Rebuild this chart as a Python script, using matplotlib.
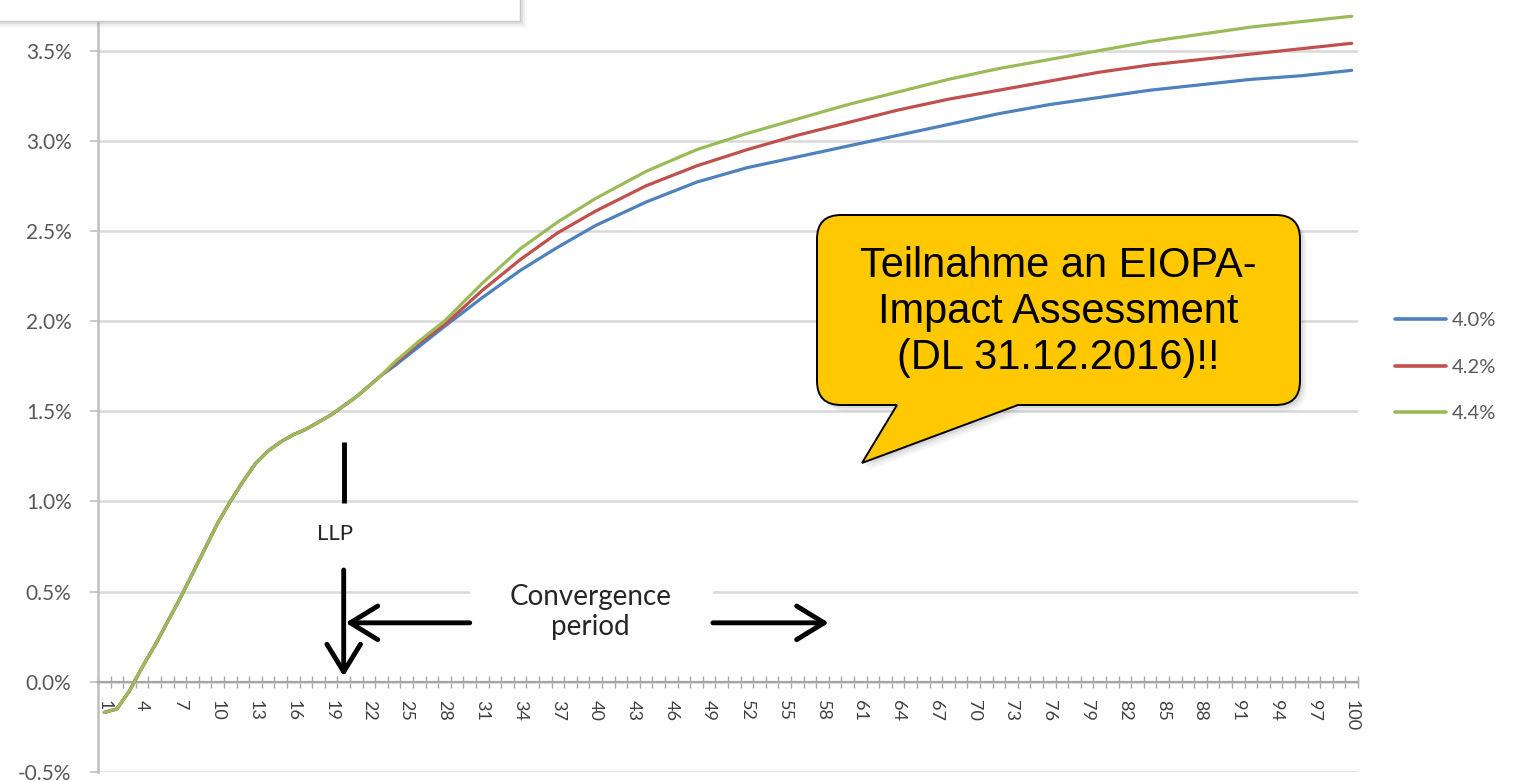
import matplotlib
matplotlib.use("Agg")
import matplotlib.pyplot as plt
from matplotlib.path import Path
from matplotlib.patches import PathPatch, Rectangle, FancyArrowPatch
from matplotlib.transforms import Affine2D
from matplotlib.ticker import FixedLocator, FuncFormatter

# Maturities (years) at which the spot curves are given
years = list(range(1, 25)) + [26, 28, 31, 34, 37, 40, 44, 48, 52, 56, 60, 64,
                              68, 72, 76, 80, 84, 88, 92, 96, 100]

# Liquid part of the curve, identical for all UFR assumptions (years 1-23)
liquid_part = [-0.17, -0.15, -0.05, 0.08, 0.20, 0.33, 0.46, 0.60, 0.74, 0.88,
               1.00, 1.11, 1.21, 1.28, 1.33, 1.37, 1.40, 1.44, 1.48, 1.53,
               1.58, 1.64, 1.70]

# Extrapolated part (year 24 onwards) in % for each UFR
extrap_40 = [1.75, 1.86, 1.97, 2.13, 2.28, 2.41, 2.53, 2.66, 2.77, 2.85, 2.91,
             2.97, 3.03, 3.09, 3.15, 3.20, 3.24, 3.28, 3.31, 3.34, 3.36, 3.39]
extrap_42 = [1.76, 1.88, 1.98, 2.17, 2.34, 2.49, 2.61, 2.75, 2.86, 2.95, 3.03,
             3.10, 3.17, 3.23, 3.28, 3.33, 3.38, 3.42, 3.45, 3.48, 3.51, 3.54]
extrap_44 = [1.77, 1.89, 2.00, 2.21, 2.40, 2.55, 2.68, 2.83, 2.95, 3.04, 3.12,
             3.20, 3.27, 3.34, 3.40, 3.45, 3.50, 3.55, 3.59, 3.63, 3.66, 3.69]

ufr_40 = liquid_part + extrap_40
ufr_42 = liquid_part + extrap_42
ufr_44 = liquid_part + extrap_44

series_labels = ["4.0%", "4.2%", "4.4%"]
series_colors = ["#4F81BD", "#C0504D", "#9BBB59"]

tick_years = list(range(1, 101, 3))
y_ticks = [-0.5, 0.0, 0.5, 1.0, 1.5, 2.0, 2.5, 3.0, 3.5]

llp_year = 20
convergence_end = 58.5

W, H = 1519, 781
fig = plt.figure(figsize=(W / 100, H / 100), dpi=100)
fig.patch.set_facecolor("white")

ax = fig.add_axes([98 / W, 9 / H, 1260 / W, 772 / H])
ax.set_xlim(0.5, 100.5)
ax.set_ylim(-0.5, 3.78)

label_color = "#595959"
tick_font = "Lato"

for vals, lab, col in zip([ufr_40, ufr_42, ufr_44], series_labels, series_colors):
    ax.plot(years, vals, color=col, lw=2.3, label=lab, solid_capstyle="round",
            solid_joinstyle="round", zorder=3)

# Axes styling
for s in ["top", "right"]:
    ax.spines[s].set_visible(False)
ax.spines["left"].set_color("#BFBFBF")
ax.spines["left"].set_linewidth(1.8)
ax.spines["bottom"].set_position(("data", 0.0))
ax.spines["bottom"].set_color("#A6A6A6")
ax.spines["bottom"].set_linewidth(1.6)

ax.yaxis.set_major_locator(FixedLocator(y_ticks))
ax.yaxis.set_major_formatter(FuncFormatter(lambda v, p: f"{v:.1f}%"))
ax.tick_params(axis="y", direction="out", length=6, width=1.2, color="#BFBFBF",
               pad=13, labelsize=15, labelcolor=label_color)
ax.grid(axis="y", color="#D9D9D9", lw=1.8, zorder=0)
ax.set_axisbelow(True)

ax.xaxis.set_major_locator(FixedLocator(tick_years))
ax.xaxis.set_minor_locator(FixedLocator([k + 0.5 for k in range(0, 101)]))
ax.set_xticklabels([str(t) for t in tick_years], rotation=270, va="top", ha="center")
ax.tick_params(axis="x", which="major", length=0, pad=13, labelsize=13,
               labelcolor="#404040")
ax.tick_params(axis="x", which="minor", direction="inout", length=8, width=1.0,
               color="#A6A6A6")
for lbl in ax.get_yticklabels() + ax.get_xticklabels():
    lbl.set_fontfamily(tick_font)

leg = ax.legend(loc="center left", bbox_to_anchor=(1395 / W, 1 - 367 / H),
                bbox_transform=fig.transFigure, frameon=False, borderpad=0,
                borderaxespad=0, handlelength=2.55, handletextpad=0.25,
                labelspacing=1.45, prop={"family": tick_font, "size": 14.5})
for t in leg.get_texts():
    t.set_color(label_color)
for h in leg.get_lines():
    h.set_linewidth(2.6)

# LLP marker and convergence period arrows
ax.plot([llp_year, llp_year], [0.99, 1.33], color="black", lw=3.5,
        solid_capstyle="butt", zorder=5)
ax.text(llp_year - 0.7, 0.82, "LLP", ha="center", va="center", fontsize=16,
        family=tick_font, color="#262626", zorder=5)
arrow_style = "->,head_length=0.9,head_width=0.55"
ax.add_patch(FancyArrowPatch((llp_year, 0.62), (llp_year, 0.03),
                             arrowstyle=arrow_style, mutation_scale=22, lw=3.5,
                             color="black", zorder=5, shrinkA=0, shrinkB=0))
ax.add_patch(Rectangle((30.0, 0.12), 19.3, 0.53, facecolor="white",
                       edgecolor="none", zorder=1))
ax.add_patch(FancyArrowPatch((30.0, 0.327), (llp_year + 0.15, 0.327),
                             arrowstyle=arrow_style, mutation_scale=22, lw=3.5,
                             color="black", zorder=5, shrinkA=0, shrinkB=0))
ax.add_patch(FancyArrowPatch((49.3, 0.327), (convergence_end, 0.327),
                             arrowstyle=arrow_style, mutation_scale=22, lw=3.5,
                             color="black", zorder=5, shrinkA=0, shrinkB=0))
ax.text(39.6, 0.385, "Convergence\nperiod", ha="center", va="center",
        fontsize=20, family=tick_font, color="#262626", linespacing=1.2, zorder=5)

# Pixel-based transform for overlay shapes (origin top-left)
pix = Affine2D().scale(1 / W, -1 / H).translate(0, 1) + fig.transFigure

# Partial title box with shadow at the top left
for off, a in [(7, 0.05), (5, 0.08), (3, 0.13)]:
    fig.add_artist(Rectangle((-10, -10), 530 + off, 31 + off, transform=pix,
                             facecolor="#808080", alpha=a, edgecolor="none", zorder=6))
fig.add_artist(Rectangle((-10, -10), 530, 31, transform=pix, facecolor="white",
                         edgecolor="#C8C8C8", lw=1.0, zorder=7))

# Speech bubble callout
L, R, T, B, r = 817, 1300, 215, 405, 24
tail_a, tail_b, tip = 1018, 897, (862, 463)
verts = [(L + r, T), (R - r, T), (R, T), (R, T + r), (R, B - r), (R, B), (R - r, B),
         (tail_a, B), tip, (tail_b, B), (L + r, B), (L, B), (L, B - r), (L, T + r),
         (L, T), (L + r, T), (L + r, T)]
codes = [Path.MOVETO, Path.LINETO, Path.CURVE3, Path.CURVE3, Path.LINETO,
         Path.CURVE3, Path.CURVE3, Path.LINETO, Path.LINETO, Path.LINETO,
         Path.LINETO, Path.CURVE3, Path.CURVE3, Path.LINETO, Path.CURVE3,
         Path.CURVE3, Path.CLOSEPOLY]
bubble = Path(verts, codes)
for off, a in [(7, 0.05), (5, 0.08), (3, 0.12)]:
    shadow = Path([(x + off, y + off) for x, y in verts], codes)
    fig.add_artist(PathPatch(shadow, transform=pix, facecolor="#606060", alpha=a,
                             edgecolor="none", zorder=8))
fig.add_artist(PathPatch(bubble, transform=pix, facecolor="#FFC800",
                         edgecolor="black", lw=1.4, zorder=9))
fig.text(1058 / W, 1 - 312 / H,
         "Teilnahme an EIOPA-\nImpact Assessment\n(DL 31.12.2016)!!",
         ha="center", va="center", fontsize=30, family="Liberation Sans",
         color="black", linespacing=1.18, zorder=10)

fig.savefig("out.png", dpi=100, facecolor="white")
